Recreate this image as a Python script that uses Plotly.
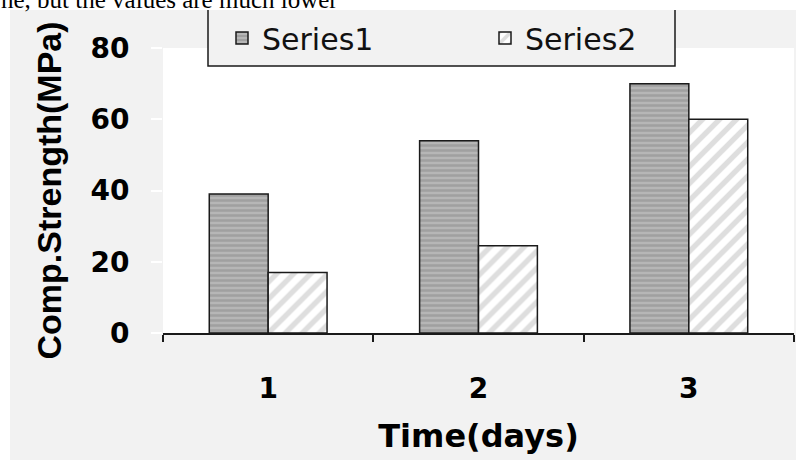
import plotly.graph_objects as go

# Compressive strength by curing time
days = ["1", "2", "3"]
series1 = [39, 54, 70]
series2 = [17, 24.5, 60]
y_ticks = [0, 20, 40, 60, 80]

W, H = 796, 460
L, R, T, B = 163, 2, 48, 127
PW, PH = W - L - R, H - T - B


def px(x):
    return (x - L) / PW


def py(y):
    return (H - B - y) / PH


fig = go.Figure()
fig.add_trace(go.Bar(
    name="Series1", x=days, y=series1,
    marker=dict(
        color="#b2b2b2",
        line=dict(color="#1a1a1a", width=1.5),
        pattern=dict(shape="-", bgcolor="#b6b6b6", fgcolor="#8a8a8a",
                     size=5, solidity=0.5),
    ),
))
fig.add_trace(go.Bar(
    name="Series2", x=days, y=series2,
    marker=dict(
        color="white",
        line=dict(color="#1a1a1a", width=1.5),
        pattern=dict(shape="/", bgcolor="white", fgcolor="#bdbdbd",
                     size=12, solidity=0.45),
    ),
))

shapes = [
    # white page strips around the chart panel
    dict(type="rect", xref="paper", yref="paper", layer="above",
         x0=px(0), x1=px(W + 5), y0=py(10), y1=py(-5),
         fillcolor="white", line_width=0),
    dict(type="rect", xref="paper", yref="paper", layer="above",
         x0=px(-5), x1=px(10), y0=py(H + 5), y1=py(-5),
         fillcolor="white", line_width=0),
    # legend panel
    dict(type="rect", xref="paper", yref="paper", layer="above",
         x0=px(208), x1=px(675), y0=py(66), y1=py(10),
         fillcolor="#f2f2f2", line_width=0),
    dict(type="path", xref="paper", yref="paper", layer="above",
         path=f"M {px(208)},{py(10)} L {px(208)},{py(66)} L {px(675)},{py(66)} L {px(675)},{py(10)}",
         line=dict(color="#1a1a1a", width=1.5)),
]

fig.update_layout(
    width=W, height=H,
    margin=dict(l=L, r=R, t=T, b=B, autoexpand=False),
    paper_bgcolor="#f2f2f2",
    plot_bgcolor="white",
    barmode="group",
    bargap=0.44,
    bargroupgap=0,
    shapes=shapes,
    showlegend=True,
    legend=dict(
        orientation="h", x=px(222), xanchor="left",
        y=py(38), yanchor="middle",
        bgcolor="rgba(0,0,0,0)", borderwidth=0,
        font=dict(family="DejaVu Sans", size=30, color="#111"),
        entrywidth=218, entrywidthmode="pixels",
        traceorder="normal",
    ),
    annotations=[
        dict(text="ne, but the values are much lower", xref="paper", yref="paper",
             x=px(-1), y=py(15), xanchor="left", yanchor="bottom",
             showarrow=False,
             font=dict(family="Liberation Serif", size=25, color="black")),
    ],
    xaxis=dict(
        type="category",
        showline=True, linecolor="#1a1a1a", linewidth=1.5,
        ticks="outside", tickson="boundaries", ticklen=7,
        tickcolor="#1a1a1a", tickwidth=1.5,
        ticklabelstandoff=30,
        tickfont=dict(family="DejaVu Sans", size=28, color="black", weight="bold"),
        title=dict(text="Time(days)", standoff=20,
                   font=dict(family="DejaVu Sans", size=32, color="black", weight="bold")),
        showgrid=False,
    ),
    yaxis=dict(
        range=[0, 80], tickvals=y_ticks,
        showline=False, showgrid=False, zeroline=False,
        ticks="outside", ticklen=11, tickcolor="white", tickwidth=1.5,
        ticklabelstandoff=16,
        tickfont=dict(family="DejaVu Sans", size=28, color="black", weight="bold"),
        title=dict(text="Comp.Strength(MPa)", standoff=18,
                   font=dict(family="Liberation Sans", size=34, color="black", weight="bold")),
    ),
)

fig.write_html("out.html")
